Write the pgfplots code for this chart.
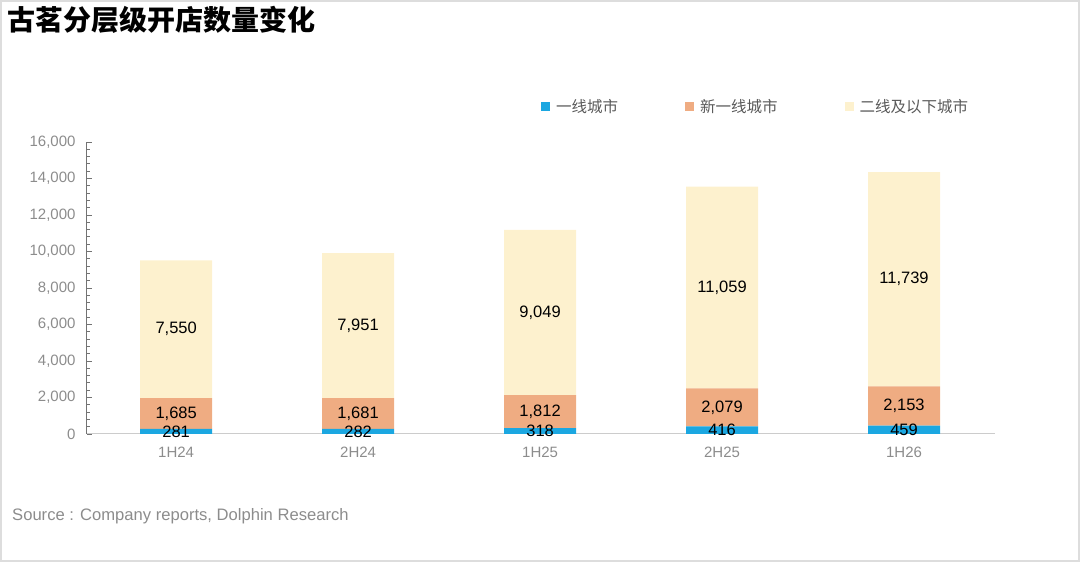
\documentclass[border=0pt]{standalone}
\usepackage{pgfplots}
\usepackage{pgfplotstable}
\pgfplotsset{compat=1.18}
\usepackage{fontspec}
\setmainfont{Liberation Sans}
\newfontfamily\cjk{Noto Sans CJK SC}
\definecolor{c1}{HTML}{1BA7E1}
\definecolor{c2}{HTML}{EFAC82}
\definecolor{c3}{HTML}{FDF1CE}
\definecolor{tickgrey}{HTML}{8C8C8C}
\definecolor{leggrey}{HTML}{595959}
\definecolor{framegrey}{HTML}{DDDDDD}
\pgfplotstableread{
x a b c
0 281 1685 7550
1 282 1681 7951
2 318 1812 9049
3 416 2079 11059
4 459 2153 11739
}\data
\begin{document}
\begin{tikzpicture}[x=1pt,y=1pt]
\useasboundingbox (0,0) rectangle (1080,562);
\draw[framegrey, line width=2pt] (1,1) rectangle (1079,561);
\node[anchor=west, inner sep=0pt, font=\cjk\bfseries\fontsize{28}{30}\selectfont] at (7,542) {古茗分层级开店数量变化};
\node[anchor=west, inner sep=0pt, text=tickgrey, font=\fontsize{16.6}{18}\selectfont] at (12,46) {Source : Company reports, Dolphin Research};
\begin{axis}[
  at={(87pt,128pt)}, anchor=south west,
  scale only axis, width=908pt, height=292pt,
  ybar stacked, bar width=72pt,
  xmin=-0.49, xmax=4.5, ymin=0, ymax=16000,
  xtick={0,1,2,3,4}, xticklabels={1H24,2H24,1H25,2H25,1H26},
  ytick={0,2000,...,16000}, minor y tick num=4,
  axis x line*=bottom, axis y line*=left,
  x axis line style={draw=black!20, line width=1pt},
  y axis line style={draw=black!55, line width=1pt},
  x tick style={draw=none},
  y tick style={draw=black!55, line width=0.8pt},
  major tick length=5pt, minor tick length=3pt,
  tick align=inside,
  /pgf/number format/assume math mode=true,
  /pgf/number format/1000 sep={,},
  scaled y ticks=false,
  yticklabel style={text=tickgrey, font=\fontsize{15}{17}\selectfont, xshift=-8pt},
  xticklabel style={text=tickgrey, font=\fontsize{15}{17}\selectfont, yshift=-9pt},
  legend columns=3,
  legend style={at={(0.5,1.12)}, anchor=west, draw=none, fill=none, inner sep=0pt,
     font=\cjk\fontsize{15.5}{17}\selectfont, text=leggrey,
     nodes={inner sep=2pt},
     /tikz/every even column/.append style={column sep=65pt}},
  legend image code/.code={\fill[#1] (0pt,-4.5pt) rectangle (9pt,4.5pt); \path (13pt,0pt);},
  nodes near coords={\pgfmathprintnumber[fixed, precision=0, 1000 sep={,}]{\pgfplotspointmeta}},
  every node near coord/.append style={anchor=center, font=\fontsize{16.5}{18}\selectfont, text=black},
]
\addplot[fill=c1, draw=none] table[x=x,y=a] {\data};
\addplot[fill=c2, draw=none] table[x=x,y=b] {\data};
\addplot[fill=c3, draw=none] table[x=x,y=c] {\data};
\legend{一线城市,新一线城市,二线及以下城市}
\end{axis}
\end{tikzpicture}
\end{document}
